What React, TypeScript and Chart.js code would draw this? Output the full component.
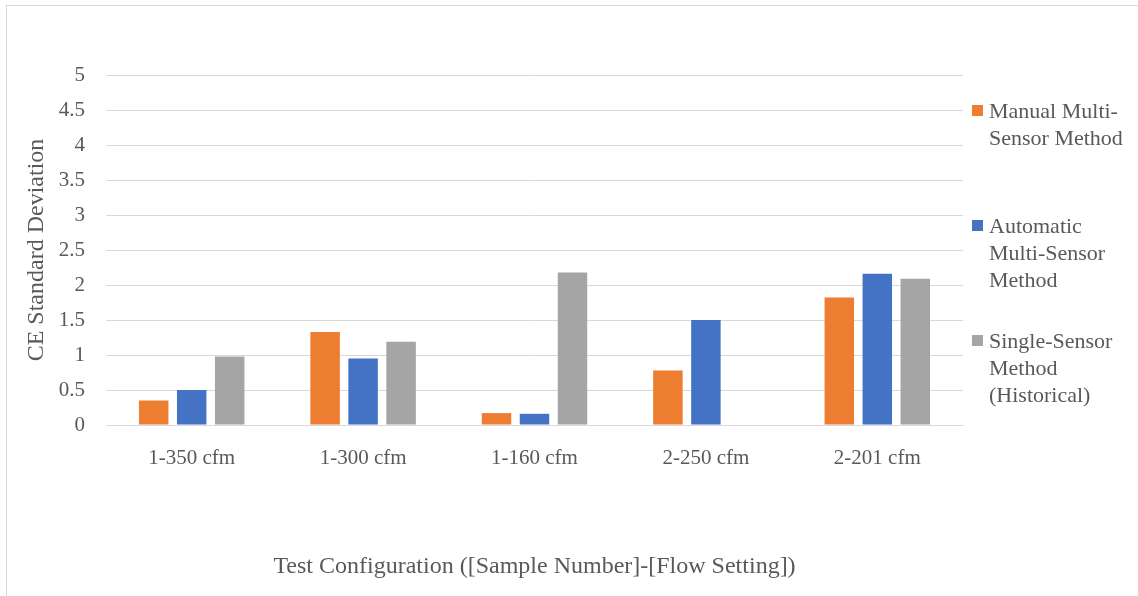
import React, { useEffect, useRef } from "react";
import { Chart, registerables } from "chart.js";

Chart.register(...registerables);

const categories = ["1-350 cfm", "1-300 cfm", "1-160 cfm", "2-250 cfm", "2-201 cfm"];
const manualMulti = [0.35, 1.33, 0.17, 0.78, 1.82];
const automaticMulti = [0.5, 0.95, 0.16, 1.5, 2.16];
const singleSensor = [0.98, 1.19, 2.18, 0, 2.09];
const seriesNames = [
  ["Manual Multi-", "Sensor Method"],
  ["Automatic", "Multi-Sensor", "Method"],
  ["Single-Sensor", "Method", "(Historical)"],
];
const seriesColors = ["#ED7D31", "#4472C4", "#A5A5A5"];
const yTitle = "CE Standard Deviation";
const xTitle = "Test Configuration ([Sample Number]-[Flow Setting])";

const FONT = "'Liberation Serif', 'Times New Roman', serif";
const TEXT = "#595959";
const GRID = "#D9D9D9";

export default function App() {
  const canvasRef = useRef<HTMLCanvasElement | null>(null);

  useEffect(() => {
    if (!canvasRef.current) return;
    const values = [manualMulti, automaticMulti, singleSensor];
    const chart = new Chart(canvasRef.current, {
      type: "bar",
      data: {
        labels: categories,
        datasets: values.map((v, i) => ({
          label: seriesNames[i].join(" "),
          data: v,
          backgroundColor: seriesColors[i],
          borderWidth: 0,
          categoryPercentage: 0.665,
          barPercentage: 0.776,
        })),
      },
      options: {
        responsive: false,
        animation: false,
        layout: { padding: { top: 75, right: 175, bottom: 0, left: 0 } },
        plugins: {
          legend: { display: false },
          tooltip: { enabled: false },
        },
        scales: {
          x: {
            grid: { display: false },
            border: { display: true, color: GRID, width: 1 },
            ticks: {
              color: TEXT,
              font: { family: FONT, size: 21 },
              padding: 13,
              maxRotation: 0,
            },
            title: {
              display: true,
              text: xTitle,
              color: TEXT,
              font: { family: FONT, size: 24 },
              padding: { top: 0, bottom: 15 },
            },
            afterFit: (scale: any) => {
              scale.height = 171;
            },
          },
          y: {
            min: 0,
            max: 5,
            grid: { color: GRID, lineWidth: 1, drawTicks: false },
            border: { display: false },
            ticks: {
              stepSize: 0.5,
              color: TEXT,
              font: { family: FONT, size: 21 },
              padding: 21,
              callback: (v: any) => String(Number(v)),
            },
            title: {
              display: true,
              text: yTitle,
              color: TEXT,
              font: { family: FONT, size: 24 },
              padding: { top: 22, bottom: 0 },
            },
            afterFit: (scale: any) => {
              scale.width = 106;
            },
          },
        },
      },
    });
    return () => chart.destroy();
  }, []);

  const legendTops = [110, 225, 340];

  return (
    <div
      style={{
        position: "absolute",
        left: 0,
        top: 0,
        width: 1138,
        height: 596,
        background: "#fff",
        overflow: "hidden",
      }}
    >
      <div
        style={{
          position: "absolute",
          left: 6,
          top: 5,
          width: 1140,
          height: 600,
          border: `1px solid ${GRID}`,
          boxSizing: "border-box",
        }}
      />
      <canvas
        ref={canvasRef}
        width={1138}
        height={596}
        style={{ position: "absolute", left: 0, top: 0, width: 1138, height: 596 }}
      />
      {seriesNames.map((lines, i) => (
        <div
          key={i}
          style={{
            position: "absolute",
            left: 972,
            top: legendTops[i] - 13.5,
            display: "flex",
            alignItems: "flex-start",
          }}
        >
          <div
            style={{
              width: 11,
              height: 11,
              marginTop: 8,
              background: seriesColors[i],
              flex: "none",
            }}
          />
          <div
            style={{
              marginLeft: 6,
              fontFamily: FONT,
              fontSize: 22,
              lineHeight: "27px",
              color: TEXT,
              whiteSpace: "nowrap",
            }}
          >
            {lines.map((l, j) => (
              <div key={j}>{l}</div>
            ))}
          </div>
        </div>
      ))}
    </div>
  );
}
